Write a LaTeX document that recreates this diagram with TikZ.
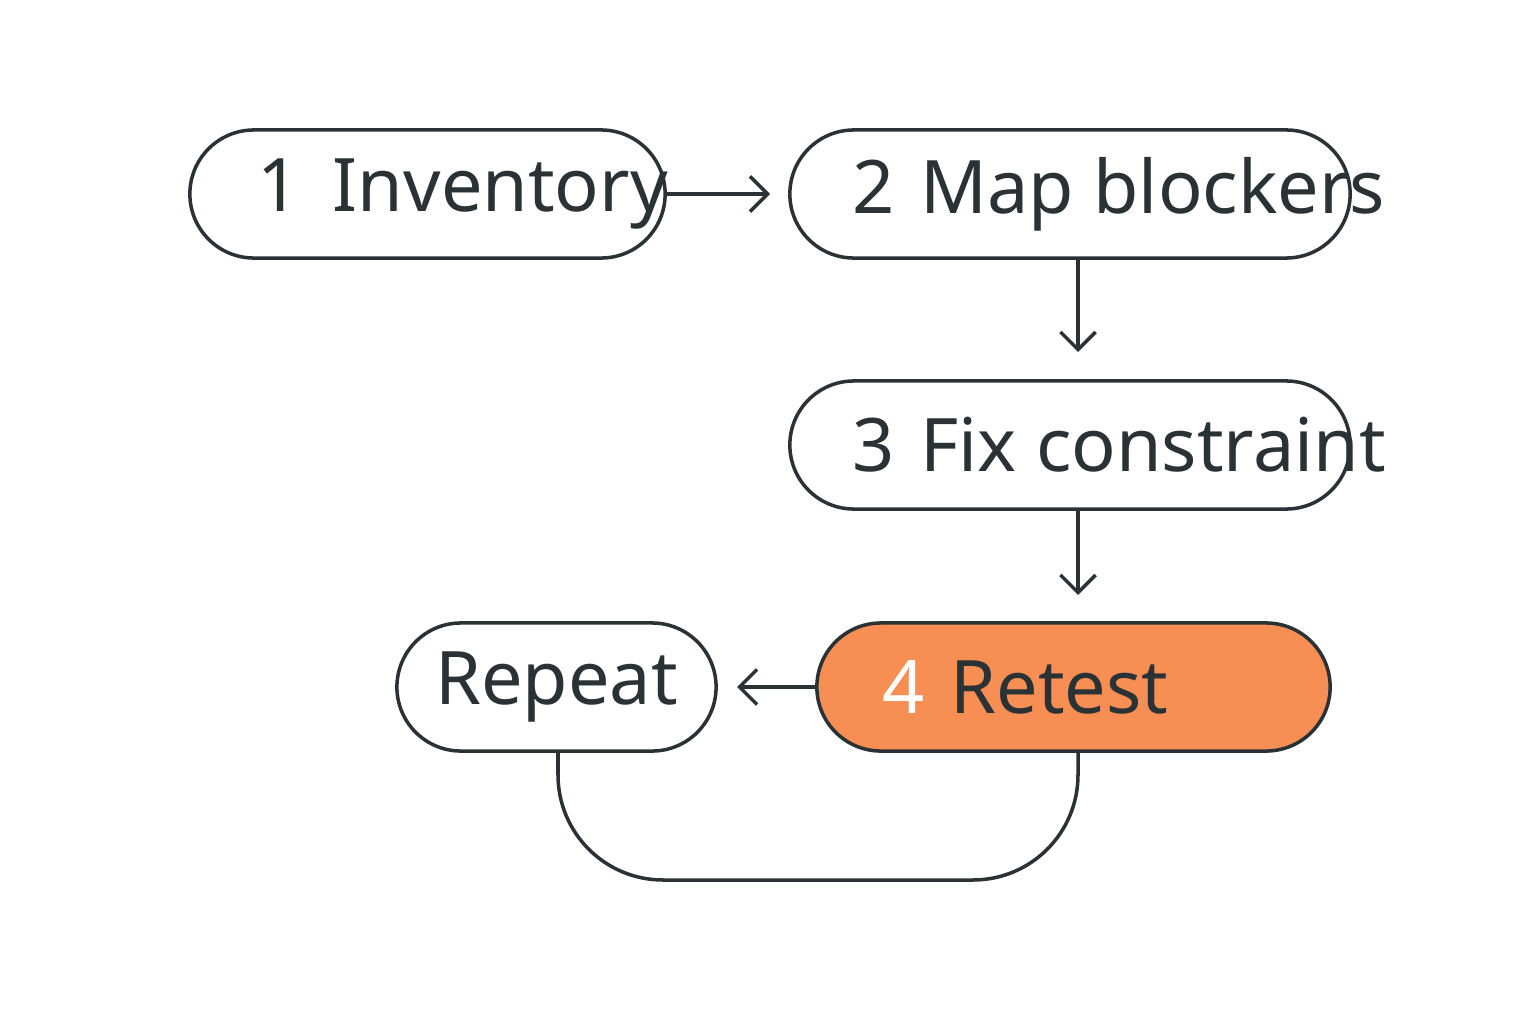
\documentclass[tikz,border=0pt]{standalone}
\usepackage{fontspec}
\setmainfont{Noto Sans}
\usetikzlibrary{arrows.meta}
\definecolor{ink}{HTML}{2B3236}
\definecolor{org}{HTML}{F78F55}
\begin{document}
\begin{tikzpicture}[x=0.01cm,y=-0.01cm,
  box/.style={draw=ink,line width=1pt,rounded corners=64\pgflinewidth*0+0.64cm,minimum height=1.28cm,inner sep=0pt},
  lab/.style={text=ink,font=\fontsize{21}{24}\selectfont,anchor=west},
  arr/.style={draw=ink,line width=1pt,-{Straight Barb[length=5pt,width=10pt]}}]
\useasboundingbox (0,0) rectangle (1536,1024);
\node[box,minimum width=4.75cm] (n1) at (427.5,194) {};
\node[box,minimum width=5.6cm] (n2) at (1070,194) {};
\node[box,minimum width=5.6cm] (n3) at (1070,445) {};
\node[box,minimum width=5.13cm,fill=org] (n4) at (1073.5,687) {};
\node[box,minimum width=3.19cm] (rp) at (556.5,687) {};
\node[lab] (t1) at (245,194) {1\hspace{0.45em}Inventory};
\node[lab] (t2) at (840,194) {2\hspace{0.35em}Map blockers};
\node[lab] (t3) at (840,445) {3\hspace{0.35em}Fix constraint};
\node[lab] (t4) at (870,687) {\textcolor{white}{4}\hspace{0.35em}Retest};
\node[text=ink,font=\fontsize{21}{24}\selectfont] (t5) at (556.5,687) {Repeat};
\coordinate (a2) at (770,194);
\draw[arr] (n1.east) -- (a2);
\coordinate (a3) at (1078,352);
\draw[arr] (n2.south -| a3) -- (a3);
\coordinate (a4) at (1078,595);
\draw[arr] (n3.south -| a4) -- (a4);
\coordinate (a5) at (737,687);
\draw[arr] (n4.west) -- (a5);
\draw[ink,line width=1pt,rounded corners=1.05cm] (558,751) -- (558,880) -- (1078,880) -- (1078,751);
\end{tikzpicture}
\end{document}
